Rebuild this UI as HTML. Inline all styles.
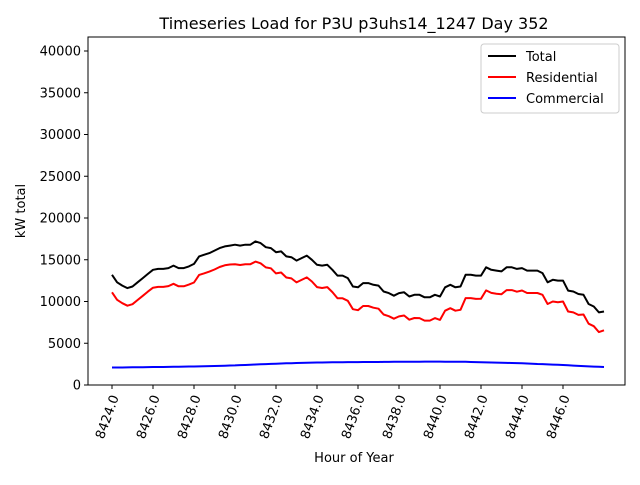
<!DOCTYPE html>
<html><head><meta charset="utf-8"><style>
body{margin:0;background:#fff}
svg text{font-family:"DejaVu Sans","Liberation Sans",sans-serif}
</style></head><body>
<svg id="chart" width="640" height="480" viewBox="0 0 640 480">
<rect x="0" y="0" width="640" height="480" fill="#fff"/>
<text x="354" y="29" font-size="16" text-anchor="middle">Timeseries Load for P3U p3uhs14_1247  Day 352</text>
<g id="grid"></g>
<g id="lines"></g>
<rect x="88" y="37" width="537" height="348" fill="none" stroke="#000" stroke-width="1"/>
<text x="354" y="462" font-size="13" text-anchor="middle">Hour of Year</text>
<text transform="translate(25,211) rotate(-90)" font-size="13" text-anchor="middle">kW total</text>
<g>
<rect x="481" y="44" width="138" height="69" rx="3" fill="#fff" stroke="#ccc"/>
<g><line x1="488" y1="56" x2="516" y2="56" stroke="#000" stroke-width="2"/><text x="526" y="61" font-size="13">Total</text></g>
<g><line x1="488" y1="77" x2="516" y2="77" stroke="red" stroke-width="2"/><text x="526" y="82" font-size="13">Residential</text></g>
<g><line x1="488" y1="98" x2="516" y2="98" stroke="blue" stroke-width="2"/><text x="526" y="103" font-size="13">Commercial</text></g>
</g>
</svg>
<script>
const startHour = 8424;
const stepHours = 0.25;
const totalLoad = [13200,12300,11900,11600,11800,12300,12800,13300,13800,13900,13900,14000,14300,14000,14000,14200,14500,15400,15600,15800,16100,16400,16600,16700,16800,16700,16800,16800,17200,17000,16500,16400,15900,16000,15400,15300,14900,15200,15500,15000,14400,14300,14400,13800,13100,13100,12800,11800,11700,12200,12200,12000,11900,11200,11000,10700,11000,11100,10600,10800,10800,10500,10500,10800,10600,11700,12000,11700,11800,13200,13200,13100,13100,14100,13800,13700,13600,14100,14100,13900,14000,13700,13700,13700,13400,12300,12600,12500,12500,11300,11200,10900,10800,9700,9400,8700,8800];
const residentialLoad = [11100,10200,9800,9500,9680,10180,10680,11180,11650,11750,11750,11850,12120,11820,11820,12020,12280,13180,13380,13580,13830,14130,14330,14430,14470,14370,14470,14470,14780,14580,14080,13980,13370,13470,12870,12770,12290,12590,12890,12390,11720,11620,11720,11120,10380,10380,10080,9080,8960,9460,9460,9260,9140,8440,8240,7940,8220,8320,7820,8020,8010,7710,7710,8010,7800,8900,9200,8900,9010,10410,10410,10310,10330,11330,11030,10930,10870,11370,11370,11170,11320,11020,11020,11020,10800,9700,10000,9900,10000,8800,8700,8400,8440,7340,7040,6340,6550];
const commercialLoad = [2100,2100,2100,2110,2120,2120,2130,2140,2150,2150,2160,2170,2180,2190,2200,2210,2220,2230,2250,2260,2270,2290,2310,2330,2350,2380,2400,2420,2450,2480,2500,2530,2550,2580,2600,2610,2630,2650,2670,2680,2690,2700,2710,2720,2720,2730,2740,2740,2740,2750,2750,2760,2760,2770,2770,2780,2780,2790,2790,2790,2790,2800,2800,2800,2800,2790,2780,2790,2790,2780,2760,2740,2730,2710,2690,2680,2670,2650,2630,2620,2600,2580,2550,2520,2500,2470,2440,2420,2400,2360,2320,2290,2260,2230,2200,2180,2160];
const xTicks = [8424,8426,8428,8430,8432,8434,8436,8438,8440,8442,8444,8446];
const yTicks = [0,5000,10000,15000,20000,25000,30000,35000,40000];

const NS = "http://www.w3.org/2000/svg";
const svg = document.getElementById('chart');
const grid = document.getElementById('grid');
const lines = document.getElementById('lines');
function xs(h){ return 112 + (h - 8424) * 20.5; }
function ys(v){ return 385 - v * 41.75 / 5000; }
function mk(tag, attrs, parent){ const e = document.createElementNS(NS, tag); for (const k in attrs) e.setAttribute(k, attrs[k]); parent.appendChild(e); return e; }

yTicks.forEach(v => {
  const y = ys(v);
  const t = mk('line', {x1:84, x2:88, y1:y, y2:y, stroke:'#000'}, grid);
  
  
  const l = mk('text', {x:81, y:y+4.5, 'font-size':13, 'text-anchor':'end'}, grid);
  l.textContent = String(v);
  
  
});
xTicks.forEach(h => {
  const x = xs(h);
  const t = mk('line', {x1:x, x2:x, y1:385, y2:389, stroke:'#000'}, grid);
  
  
  const l = mk('text', {transform:'translate(' + (x+7) + ',397) rotate(-70)', 'font-size':13, 'text-anchor':'end'}, grid);
  l.textContent = h.toFixed(1);
  
  
});
function series(arr, color, name){
  const pts = arr.map((v,i) => xs(startHour + i*stepHours).toFixed(1) + ',' + ys(v).toFixed(1)).join(' ');
  const p = mk('polyline', {points:pts, fill:'none', stroke:color, 'stroke-width':2, 'stroke-linejoin':'round'}, lines);
  
  
}
series(totalLoad, '#000', 'total-line');
series(residentialLoad, 'red', 'residential-line');
series(commercialLoad, 'blue', 'commercial-line');
</script>
</body></html>
